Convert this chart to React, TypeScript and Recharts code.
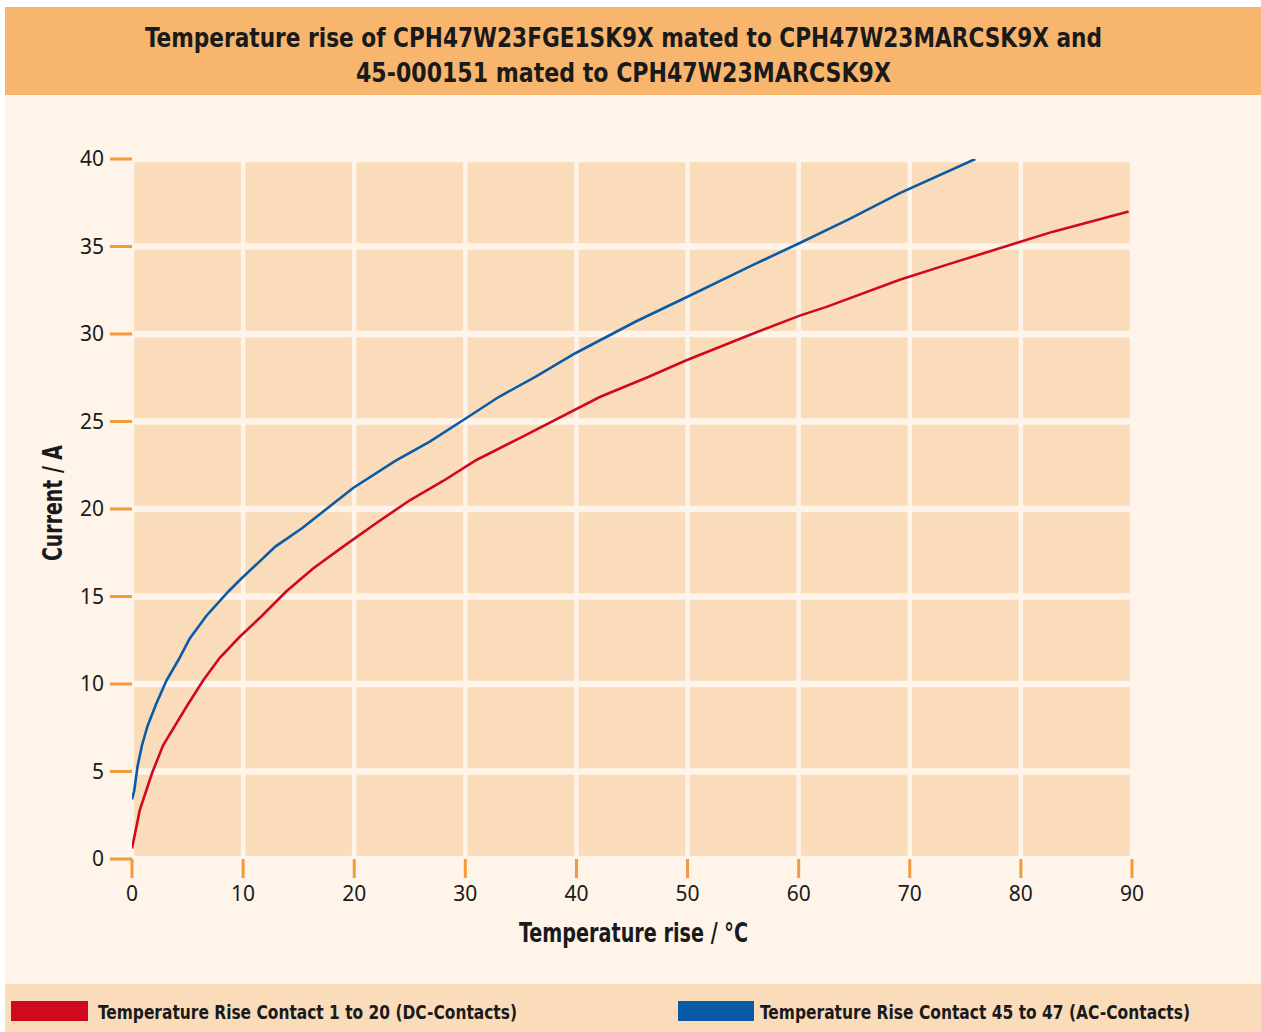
import React from "react";
import { LineChart, Line, XAxis, YAxis, CartesianGrid } from "recharts";

const titleLines = [
  "Temperature rise of CPH47W23FGE1SK9X mated to CPH47W23MARCSK9X and",
  "45-000151 mated to CPH47W23MARCSK9X",
];
const xAxisTitle = "Temperature rise / °C";
const yAxisTitle = "Current / A";
const seriesNames = [
  "Temperature Rise Contact 1 to 20 (DC-Contacts)",
  "Temperature Rise Contact 45 to 47 (AC-Contacts)",
];
const xTicks = [0, 10, 20, 30, 40, 50, 60, 70, 80, 90];
const yTicks = [0, 5, 10, 15, 20, 25, 30, 35, 40];

const dcTemp = [0, 0.7, 1.8, 2.8, 4.9, 6.4, 7.9, 9.7, 11.7, 13.9, 16.3, 19.0, 22.0, 25.0, 28.0, 31.0, 34.9, 42.1, 46.3, 49.9, 56.2, 60.1, 62.5, 69.1, 73.3, 79.6, 82.9, 89.7];
const dcCurrent = [0.6, 2.8, 4.9, 6.5, 8.7, 10.2, 11.5, 12.7, 13.9, 15.3, 16.6, 17.85, 19.2, 20.5, 21.6, 22.8, 24.05, 26.4, 27.5, 28.5, 30.1, 31.05, 31.55, 33.1, 33.95, 35.2, 35.85, 37.0];

const acTemp = [0, 0.2, 0.5, 0.9, 1.4, 2.2, 3.1, 4.2, 5.2, 6.7, 8.7, 9.8, 12.9, 15.3, 19.9, 23.7, 26.8, 30.1, 33.0, 36.3, 39.9, 45.3, 49.9, 55.9, 60.1, 64.5, 69.1, 75.9];
const acCurrent = [3.4, 3.9, 5.3, 6.5, 7.6, 8.9, 10.2, 11.4, 12.6, 13.9, 15.3, 16.0, 17.85, 18.9, 21.2, 22.75, 23.85, 25.2, 26.4, 27.55, 28.9, 30.7, 32.1, 33.95, 35.2, 36.55, 38.05, 40.0];

const dcData = dcTemp.map((t, k) => ({ t, i: dcCurrent[k] }));
const acData = acTemp.map((t, k) => ({ t, i: acCurrent[k] }));

const RED = "#D0091E";
const BLUE = "#0A5BA6";
const PAGE_BG = "#FEF4E9";
const TILE_BG = "#FADCBA";
const TITLE_BG = "#F7B56E";
const TICK_ORANGE = "#F39A3B";
const TEXT = "#1a1a1a";
const NARROW = "'Liberation Sans Narrow', 'DejaVu Sans Condensed', 'Noto Sans', sans-serif";
const TICK_FONT = "'Noto Sans', 'Open Sans', sans-serif";

export default function App() {
  return (
    <div style={{ position: "relative", width: 1261, height: 1032, background: "#fff", overflow: "hidden" }}>
      <style>{"body{margin:0;}"}</style>
      <div style={{ position: "absolute", left: 5, top: 7, width: 1256, height: 88, background: TITLE_BG }} />
      <div style={{ position: "absolute", left: 5, top: 95, width: 1256, height: 889, background: PAGE_BG }} />
      <div style={{ position: "absolute", left: 5, top: 984, width: 1256, height: 48, background: TILE_BG }} />

      <div style={{ position: "absolute", left: 0, top: 0 }}>
        <LineChart
          width={1261}
          height={1032}
          margin={{ top: 159, right: 129, bottom: 0, left: 32 }}
        >
          <CartesianGrid
            fill={TILE_BG}
            fillOpacity={1}
            stroke={PAGE_BG}
            strokeWidth={6.5}
            horizontal={true}
            vertical={false}
          />
          <CartesianGrid
            stroke={PAGE_BG}
            strokeWidth={4.5}
            horizontal={false}
            vertical={true}
          />
          <XAxis
            type="number"
            dataKey="t"
            domain={[0, 90]}
            ticks={xTicks}
            interval={0}
            axisLine={false}
            tickLine={{ stroke: TICK_ORANGE, strokeWidth: 3 }}
            tickSize={19}
            tickMargin={8}
            height={173}
            tick={{ fill: TEXT, fontSize: 21, fontFamily: TICK_FONT }}
            allowDataOverflow
          />
          <YAxis
            type="number"
            dataKey="i"
            domain={[0, 40]}
            ticks={yTicks}
            interval={0}
            axisLine={false}
            tickLine={{ stroke: TICK_ORANGE, strokeWidth: 3 }}
            tickSize={22}
            tickMargin={6}
            width={100}
            tick={{ fill: TEXT, fontSize: 21, fontFamily: TICK_FONT }}
            allowDataOverflow
          />
          <Line
            data={dcData}
            dataKey="i"
            type="linear"
            stroke={RED}
            strokeWidth={2.6}
            dot={false}
            activeDot={false}
            isAnimationActive={false}
            name={seriesNames[0]}
          />
          <Line
            data={acData}
            dataKey="i"
            type="linear"
            stroke={BLUE}
            strokeWidth={2.6}
            dot={false}
            activeDot={false}
            isAnimationActive={false}
            name={seriesNames[1]}
          />
        </LineChart>
      </div>

      <svg
        width={1261}
        height={1032}
        style={{ position: "absolute", left: 0, top: 0, pointerEvents: "none" }}
      >
        <g fontFamily={NARROW} fontWeight={700} fill={TEXT}>
          <text x={623.5} y={47} fontSize={27} textAnchor="middle" textLength={957} lengthAdjust="spacingAndGlyphs">
            {titleLines[0]}
          </text>
          <text x={623.5} y={82} fontSize={27} textAnchor="middle" textLength={535} lengthAdjust="spacingAndGlyphs">
            {titleLines[1]}
          </text>
          <text x={633.5} y={942} fontSize={26} textAnchor="middle" textLength={229} lengthAdjust="spacingAndGlyphs">
            {xAxisTitle}
          </text>
          <text
            x={0}
            y={0}
            fontSize={26}
            textAnchor="middle"
            textLength={116}
            lengthAdjust="spacingAndGlyphs"
            transform="translate(61.5,503) rotate(-90)"
          >
            {yAxisTitle}
          </text>
          <rect x={11} y={1001} width={77} height={20} fill={RED} />
          <text x={98} y={1019} fontSize={20} textLength={419} lengthAdjust="spacingAndGlyphs">
            {seriesNames[0]}
          </text>
          <rect x={678} y={1001} width={76} height={20} fill={BLUE} />
          <text x={760} y={1019} fontSize={20} textLength={430} lengthAdjust="spacingAndGlyphs">
            {seriesNames[1]}
          </text>
        </g>
      </svg>
    </div>
  );
}
